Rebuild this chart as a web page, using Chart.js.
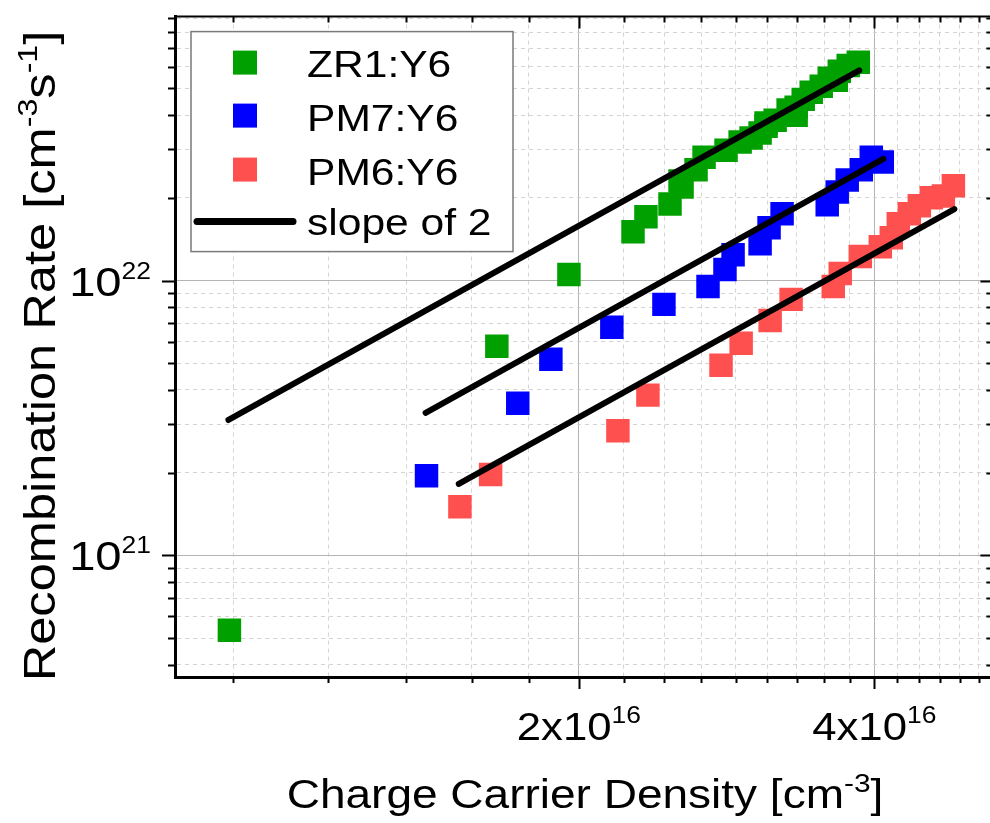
<!DOCTYPE html>
<html>
<head>
<meta charset="utf-8">
<script src="https://cdn.jsdelivr.net/npm/chart.js@4.4.1/dist/chart.umd.min.js"></script>
<style>
  html, body { margin: 0; padding: 0; background: #fff; overflow: hidden; }
  #wrap { width: 1010px; height: 823px; }
</style>
</head>
<body>
<div id="wrap"><canvas id="chart" width="1010" height="823"></canvas></div>
<script>
// values (x in cm^-3, y in cm^-3 s^-1)
const zr1X = [0.881e16, 1.650e16, 1.954e16, 2.271e16, 2.341e16, 2.477e16, 2.536e16, 2.548e16, 2.633e16, 2.683e16,
              2.825e16, 2.920e16, 2.996e16, 3.060e16, 3.103e16, 3.103e16, 3.170e16, 3.268e16, 3.330e16, 3.330e16,
              3.386e16, 3.450e16, 3.532e16, 3.599e16, 3.659e16, 3.685e16, 3.763e16, 3.853e16];
const zr1Y = [5.35e20, 5.77e21, 1.051e22, 1.505e22, 1.706e22, 1.90e22, 2.30e22, 2.19e22, 2.53e22, 2.81e22,
              2.98e22, 3.19e22, 3.30e22, 3.44e22, 3.64e22, 3.74e22, 3.83e22, 4.17e22, 3.99e22, 4.27e22,
              4.56e22, 4.84e22, 5.09e22, 5.44e22, 5.35e22, 5.77e22, 6.06e22, 6.22e22];

const pm7X = [1.399e16, 1.733e16, 1.873e16, 2.161e16, 2.442e16, 2.708e16, 2.818e16, 2.872e16, 3.060e16,
              3.125e16, 3.222e16, 3.582e16, 3.667e16, 3.754e16, 3.880e16, 3.972e16, 4.076e16];
const pm7Y = [1.95e21, 3.58e21, 5.17e21, 6.76e21, 8.19e21, 9.51e21, 1.096e22, 1.242e22, 1.362e22,
              1.556e22, 1.749e22, 1.886e22, 2.10e22, 2.32e22, 2.53e22, 2.81e22, 2.70e22];

const pm6X = [1.513e16, 1.626e16, 2.192e16, 2.352e16, 2.792e16, 2.927e16, 3.133e16, 3.291e16, 3.633e16,
              3.693e16, 3.871e16, 4.057e16, 4.163e16, 4.232e16, 4.343e16, 4.446e16, 4.573e16, 4.704e16, 4.816e16];
const pm6Y = [1.505e21, 1.97e21, 2.84e21, 3.83e21, 4.92e21, 5.91e21, 7.16e21, 8.54e21, 9.51e21,
              1.060e22, 1.222e22, 1.328e22, 1.431e22, 1.609e22, 1.749e22, 1.870e22, 2.00e22, 2.03e22, 2.21e22];

// slope-of-2 guide lines, end points
const fitZr1X = [0.879e16, 3.862e16];
const fitZr1Y = [3.11e21, 5.81e22];
const fitPm7X = [1.396e16, 4.086e16];
const fitPm7Y = [3.30e21, 2.77e22];
const fitPm6X = [1.509e16, 4.827e16];
const fitPm6Y = [1.82e21, 1.82e22];

const seriesNames = ['ZR1:Y6', 'PM7:Y6', 'PM6:Y6'];
const fitName = 'slope of 2';

const xMajorTicks = [2e16, 4e16];
const xTickLabels = [['2x10', '16'], ['4x10', '16']];
const yMajorTicks = [1e21, 1e22];
const yTickLabels = [['10', '21'], ['10', '22']];
const yMinorTicks = [4e20, 5e20, 6e20, 7e20, 8e20, 9e20, 2e21, 3e21, 4e21, 5e21, 6e21, 7e21, 8e21, 9e21,
                     2e22, 3e22, 4e22, 5e22, 6e22, 7e22, 8e22, 9e22];

const xTitle = [['Charge Carrier Density [cm'], ['-3', 1], [']']];
const yTitle = [['Recombination Rate [cm'], ['-3', 1], ['s'], ['-1', 1], [']']];

const X_MIN = 7.754e15, X_MAX = 5.29e16;
const Y_MIN = 3.614e20, Y_MAX = 9.12e22;

const COLORS = ['#00a000', '#0000ff', '#ff5050'];
const FONT = '"Liberation Sans", Arial, sans-serif';
const SX = 1.15; // text in the figure is a bit wider than plain Arial

function pts(xs, ys) {
    return xs.map((x, i) => ({ x: x, y: ys[i] }));
}

function isIn(list, v) {
    return list.some(m => Math.abs(m - v) / m < 1e-6);
}

// draws text made of runs, some raised as superscripts
function drawRich(ctx, runs, x, y, size, supSize, rise, align) {
    let total = 0;
    const widths = runs.map(r => {
        ctx.font = (r[1] ? supSize : size) + 'px ' + FONT;
        const w = ctx.measureText(r[0]).width * SX;
        total += w;
        return w;
    });
    let cx = align === 'center' ? x - total / 2 : (align === 'right' ? x - total : x);
    runs.forEach((r, i) => {
        ctx.save();
        ctx.font = (r[1] ? supSize : size) + 'px ' + FONT;
        ctx.textAlign = 'left';
        ctx.textBaseline = 'alphabetic';
        ctx.translate(cx, y - (r[1] ? rise : 0));
        ctx.scale(SX, 1);
        ctx.fillText(r[0], 0, 0);
        ctx.restore();
        cx += widths[i];
    });
}

const framePlugin = {
    id: 'frame',
    afterDraw(chart) {
        const ctx = chart.ctx;
        const ca = chart.chartArea;
        const xs = chart.scales.x;
        const ys = chart.scales.y;
        ctx.save();
        ctx.strokeStyle = '#000';
        ctx.fillStyle = '#000';

        // top and right frame
        ctx.lineWidth = 2;
        ctx.beginPath();
        ctx.moveTo(ca.left, ca.top);
        ctx.lineTo(ca.right, ca.top);
        ctx.lineTo(ca.right, ca.bottom);
        ctx.stroke();

        // ticks: outside on bottom/left, inside on top/right
        ctx.lineWidth = 2;
        ctx.beginPath();
        xs.ticks.forEach(t => {
            const p = Math.round(xs.getPixelForValue(t.value)) + 0.5;
            const len = isIn(xMajorTicks, t.value) ? 12 : 6;
            ctx.moveTo(p, ca.bottom);
            ctx.lineTo(p, ca.bottom + len);
            ctx.moveTo(p, ca.top);
            ctx.lineTo(p, ca.top + len);
        });
        ys.ticks.forEach(t => {
            const p = Math.round(ys.getPixelForValue(t.value)) + 0.5;
            const len = isIn(yMajorTicks, t.value) ? 13 : 7;
            ctx.moveTo(ca.left, p);
            ctx.lineTo(ca.left - len, p);
            ctx.moveTo(ca.right, p);
            ctx.lineTo(ca.right - len, p);
        });
        ctx.stroke();

        // tick labels
        xMajorTicks.forEach((v, i) => {
            const p = xs.getPixelForValue(v);
            drawRich(ctx, [[xTickLabels[i][0]], [xTickLabels[i][1], 1]], p, ca.bottom + 63, 38, 23, 17, 'center');
        });
        yMajorTicks.forEach((v, i) => {
            const p = ys.getPixelForValue(v);
            drawRich(ctx, [[yTickLabels[i][0]], [yTickLabels[i][1], 1]], ca.left - 24, p + 15, 41, 23, 17, 'right');
        });

        // axis titles
        drawRich(ctx, xTitle, 585, ca.bottom + 131, 40, 26, 16, 'center');
        ctx.save();
        ctx.translate(55, 356);
        ctx.rotate(-Math.PI / 2);
        drawRich(ctx, yTitle, 0, 0, 44, 28, 18, 'center');
        ctx.restore();

        // legend
        const bx = ca.left + 16, by = ca.top + 15, bw = 322, bh = 220;
        ctx.fillStyle = '#fff';
        ctx.fillRect(bx, by, bw, bh);
        ctx.strokeStyle = '#7a7a7a';
        ctx.lineWidth = 1.5;
        ctx.strokeRect(bx, by, bw, bh);
        const rowMark = [31, 84, 138];
        const rowText = [45, 99, 153];
        seriesNames.forEach((name, i) => {
            ctx.fillStyle = COLORS[i];
            ctx.fillRect(bx + 42, by + rowMark[i] - 12, 24, 24);
            ctx.fillStyle = '#000';
            drawRich(ctx, [[name]], bx + 116, by + rowText[i], 37, 20, 0, 'left');
        });
        ctx.strokeStyle = '#000';
        ctx.lineWidth = 7;
        ctx.lineCap = 'round';
        ctx.beginPath();
        ctx.moveTo(bx + 6, by + 190);
        ctx.lineTo(bx + 102, by + 190);
        ctx.stroke();
        ctx.fillStyle = '#000';
        drawRich(ctx, [[fitName]], bx + 116, by + 203, 37, 20, 0, 'left');

        ctx.restore();
    }
};

function lineSet(xs, ys) {
    return {
        label: fitName,
        data: pts(xs, ys),
        showLine: true,
        borderColor: '#000',
        borderWidth: 6,
        borderCapStyle: 'round',
        pointRadius: 0,
        order: 0
    };
}

function markSet(i, xs, ys) {
    return {
        label: seriesNames[i],
        data: pts(xs, ys),
        pointStyle: 'rect',
        pointRadius: 16.6,
        backgroundColor: COLORS[i],
        borderWidth: 0,
        order: 1
    };
}

const ctx = document.getElementById('chart');
const chart = new Chart(ctx, {
    type: 'scatter',
    data: {
        datasets: [
            lineSet(fitZr1X, fitZr1Y),
            lineSet(fitPm7X, fitPm7Y),
            lineSet(fitPm6X, fitPm6Y),
            markSet(0, zr1X, zr1Y),
            markSet(1, pm7X, pm7Y),
            markSet(2, pm6X, pm6Y)
        ]
    },
    options: {
        responsive: false,
        animation: false,
        layout: { padding: { left: 175, top: 14, right: 8, bottom: 146 } },
        plugins: { legend: { display: false }, tooltip: { enabled: false } },
        scales: {
            x: {
                type: 'logarithmic',
                min: X_MIN,
                max: X_MAX,
                afterFit(s) { s.height = 0; },
                afterBuildTicks(s) {
                    // minor ticks every 2/9 x 10^16, as in the figure
                    const out = [];
                    for (let k = 1; k * 2e16 / 9 < X_MAX; k++) {
                        const v = k * 2e16 / 9;
                        if (v > X_MIN) out.push({ value: v });
                    }
                    s.ticks = out;
                },
                ticks: { display: false },
                grid: {
                    drawTicks: false,
                    color: c => (c.tick && isIn(xMajorTicks, c.tick.value)) ? '#b4b4b4' : '#d4d4d4',
                    lineWidth: 1
                },
                border: {
                    color: '#000',
                    width: 3,
                    dash: c => (c.tick && !isIn(xMajorTicks, c.tick.value)) ? [4, 4] : []
                }
            },
            y: {
                type: 'logarithmic',
                min: Y_MIN,
                max: Y_MAX,
                afterFit(s) { s.width = 0; },
                afterBuildTicks(s) {
                    s.ticks = yMinorTicks.concat(yMajorTicks).sort((a, b) => a - b).map(v => ({ value: v }));
                },
                ticks: { display: false },
                grid: {
                    drawTicks: false,
                    color: c => (c.tick && isIn(yMajorTicks, c.tick.value)) ? '#b4b4b4' : '#d4d4d4',
                    lineWidth: 1
                },
                border: {
                    color: '#000',
                    width: 3,
                    dash: c => (c.tick && !isIn(yMajorTicks, c.tick.value)) ? [4, 4] : []
                }
            }
        }
    },
    plugins: [framePlugin]
});
</script>
</body>
</html>
